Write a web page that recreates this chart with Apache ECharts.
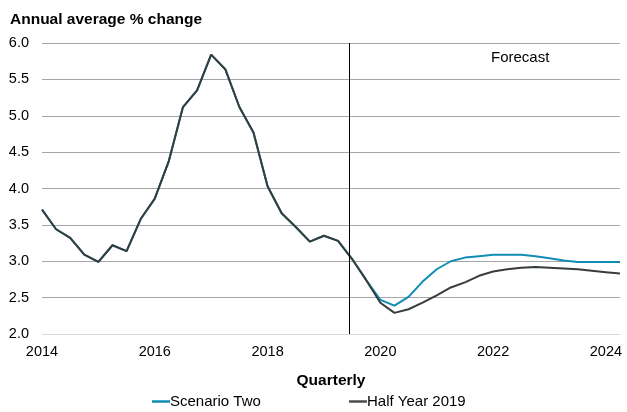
<!DOCTYPE html>
<html>
<head>
<meta charset="utf-8">
<script src="https://cdn.jsdelivr.net/npm/echarts@6/dist/echarts.min.js"></script>
<style>
  html, body { margin: 0; padding: 0; background: #fff; }
  #chart { width: 627px; height: 412px; }
</style>
</head>
<body>
<div id="chart"></div>
<script>
// Quarterly periods, 2014 Q1 to 2024 Q2
const quarters = [
  '2014 Q1','2014 Q2','2014 Q3','2014 Q4',
  '2015 Q1','2015 Q2','2015 Q3','2015 Q4',
  '2016 Q1','2016 Q2','2016 Q3','2016 Q4',
  '2017 Q1','2017 Q2','2017 Q3','2017 Q4',
  '2018 Q1','2018 Q2','2018 Q3','2018 Q4',
  '2019 Q1','2019 Q2','2019 Q3','2019 Q4',
  '2020 Q1','2020 Q2','2020 Q3','2020 Q4',
  '2021 Q1','2021 Q2','2021 Q3','2021 Q4',
  '2022 Q1','2022 Q2','2022 Q3','2022 Q4',
  '2023 Q1','2023 Q2','2023 Q3','2023 Q4',
  '2024 Q1','2024 Q2'
];

// Annual average % change
const scenarioTwo = [
  3.71, 3.44, 3.32, 3.09, 2.99, 3.22, 3.14, 3.58,
  3.86, 4.38, 5.12, 5.35, 5.84, 5.64, 5.12, 4.77,
  4.03, 3.66, 3.47, 3.27, 3.35, 3.28, 3.03, 2.74,
  2.47, 2.39, 2.51, 2.72, 2.89, 3.00, 3.05, 3.07,
  3.09, 3.09, 3.09, 3.07, 3.04, 3.01, 2.99, 2.99,
  2.99, 2.99
];
const halfYear2019 = [
  3.71, 3.44, 3.32, 3.09, 2.99, 3.22, 3.14, 3.58,
  3.86, 4.38, 5.12, 5.35, 5.84, 5.64, 5.12, 4.77,
  4.03, 3.66, 3.47, 3.27, 3.35, 3.28, 3.03, 2.74,
  2.43, 2.29, 2.34, 2.43, 2.53, 2.64, 2.71, 2.80,
  2.86, 2.89, 2.91, 2.92, 2.91, 2.90, 2.89, 2.87,
  2.85, 2.83
];

const yTicks = ['2.0','2.5','3.0','3.5','4.0','4.5','5.0','5.5','6.0'];
const xTicks = ['2014','2016','2018','2020','2022','2024'];
const forecastStart = 2019.45;

const toYear = q => {
  const [y, p] = q.split(' Q');
  return Number(y) + (Number(p) - 1) / 4;
};
const pairs = vals => quarters.map((q, i) => [toYear(q), vals[i]]);

const font = 'Liberation Sans, Arial, sans-serif';
const legendText = { fontFamily: font, fontSize: 15, color: '#000', padding: [0, 0, 0, -5] };
const chart = echarts.init(document.getElementById('chart'), null, { renderer: 'canvas' });

chart.setOption({
  animation: false,
  textStyle: { fontFamily: font },
  grid: { left: 42, right: 7, top: 43, bottom: 78, containLabel: false },
  xAxis: {
    type: 'value',
    min: Number(xTicks[0]),
    max: toYear(quarters[quarters.length - 1]),
    interval: 2,
    name: 'Quarterly',
    nameLocation: 'middle',
    nameGap: 39,
    nameTextStyle: { fontFamily: font, fontSize: 15.5, fontWeight: 'bold', color: '#000' },
    axisLine: { show: true, lineStyle: { color: '#d9d9d9', width: 1 } },
    axisTick: { show: false },
    splitLine: { show: false },
    axisLabel: {
      fontFamily: font, fontSize: 14.5, color: '#000', margin: 10,
      formatter: v => xTicks.includes(String(v)) ? String(v) : '',
      showMaxLabel: false
    }
  },
  yAxis: {
    type: 'value',
    min: Number(yTicks[0]),
    max: Number(yTicks[yTicks.length - 1]),
    interval: 0.5,
    axisLine: { show: false },
    axisTick: { show: false },
    splitLine: { lineStyle: { color: '#a6a6a6', width: 1 } },
    axisLabel: {
      fontFamily: font, fontSize: 14.5, color: '#000', margin: 13,
      formatter: v => v.toFixed(1)
    }
  },
  legend: [
    {
      top: 394, left: 152, padding: 0,
      itemWidth: 18, itemHeight: 2.5, icon: 'rect',
      textStyle: legendText,
      data: ['Scenario Two']
    },
    {
      top: 394, left: 349, padding: 0,
      itemWidth: 18, itemHeight: 2.5, icon: 'rect',
      textStyle: legendText,
      data: ['Half Year 2019']
    }
  ],
  series: [
    {
      name: 'Scenario Two',
      type: 'line',
      data: pairs(scenarioTwo),
      symbol: 'none',
      lineStyle: { color: '#0f8db5', width: 2 },
      itemStyle: { color: '#0f8db5' },
      z: 2
    },
    {
      name: 'Half Year 2019',
      type: 'line',
      data: pairs(halfYear2019),
      symbol: 'none',
      lineStyle: { color: '#363d3b', width: 2 },
      itemStyle: { color: '#4d4d4b' },
      z: 3,
      markLine: {
        silent: true,
        symbol: 'none',
        label: { show: false },
        lineStyle: { color: '#000', width: 1, type: 'solid' },
        data: [{ xAxis: forecastStart }]
      }
    }
  ],
  graphic: [
    {
      type: 'text',
      left: 10, top: 12,
      style: {
        text: 'Annual average % change',
        fontFamily: font, fontSize: 15.5, fontWeight: 'bold', fill: '#000'
      }
    },
    {
      type: 'text',
      left: 491, top: 50,
      style: { text: 'Forecast', fontFamily: font, fontSize: 15, fill: '#000' }
    }
  ]
});
</script>
</body>
</html>
